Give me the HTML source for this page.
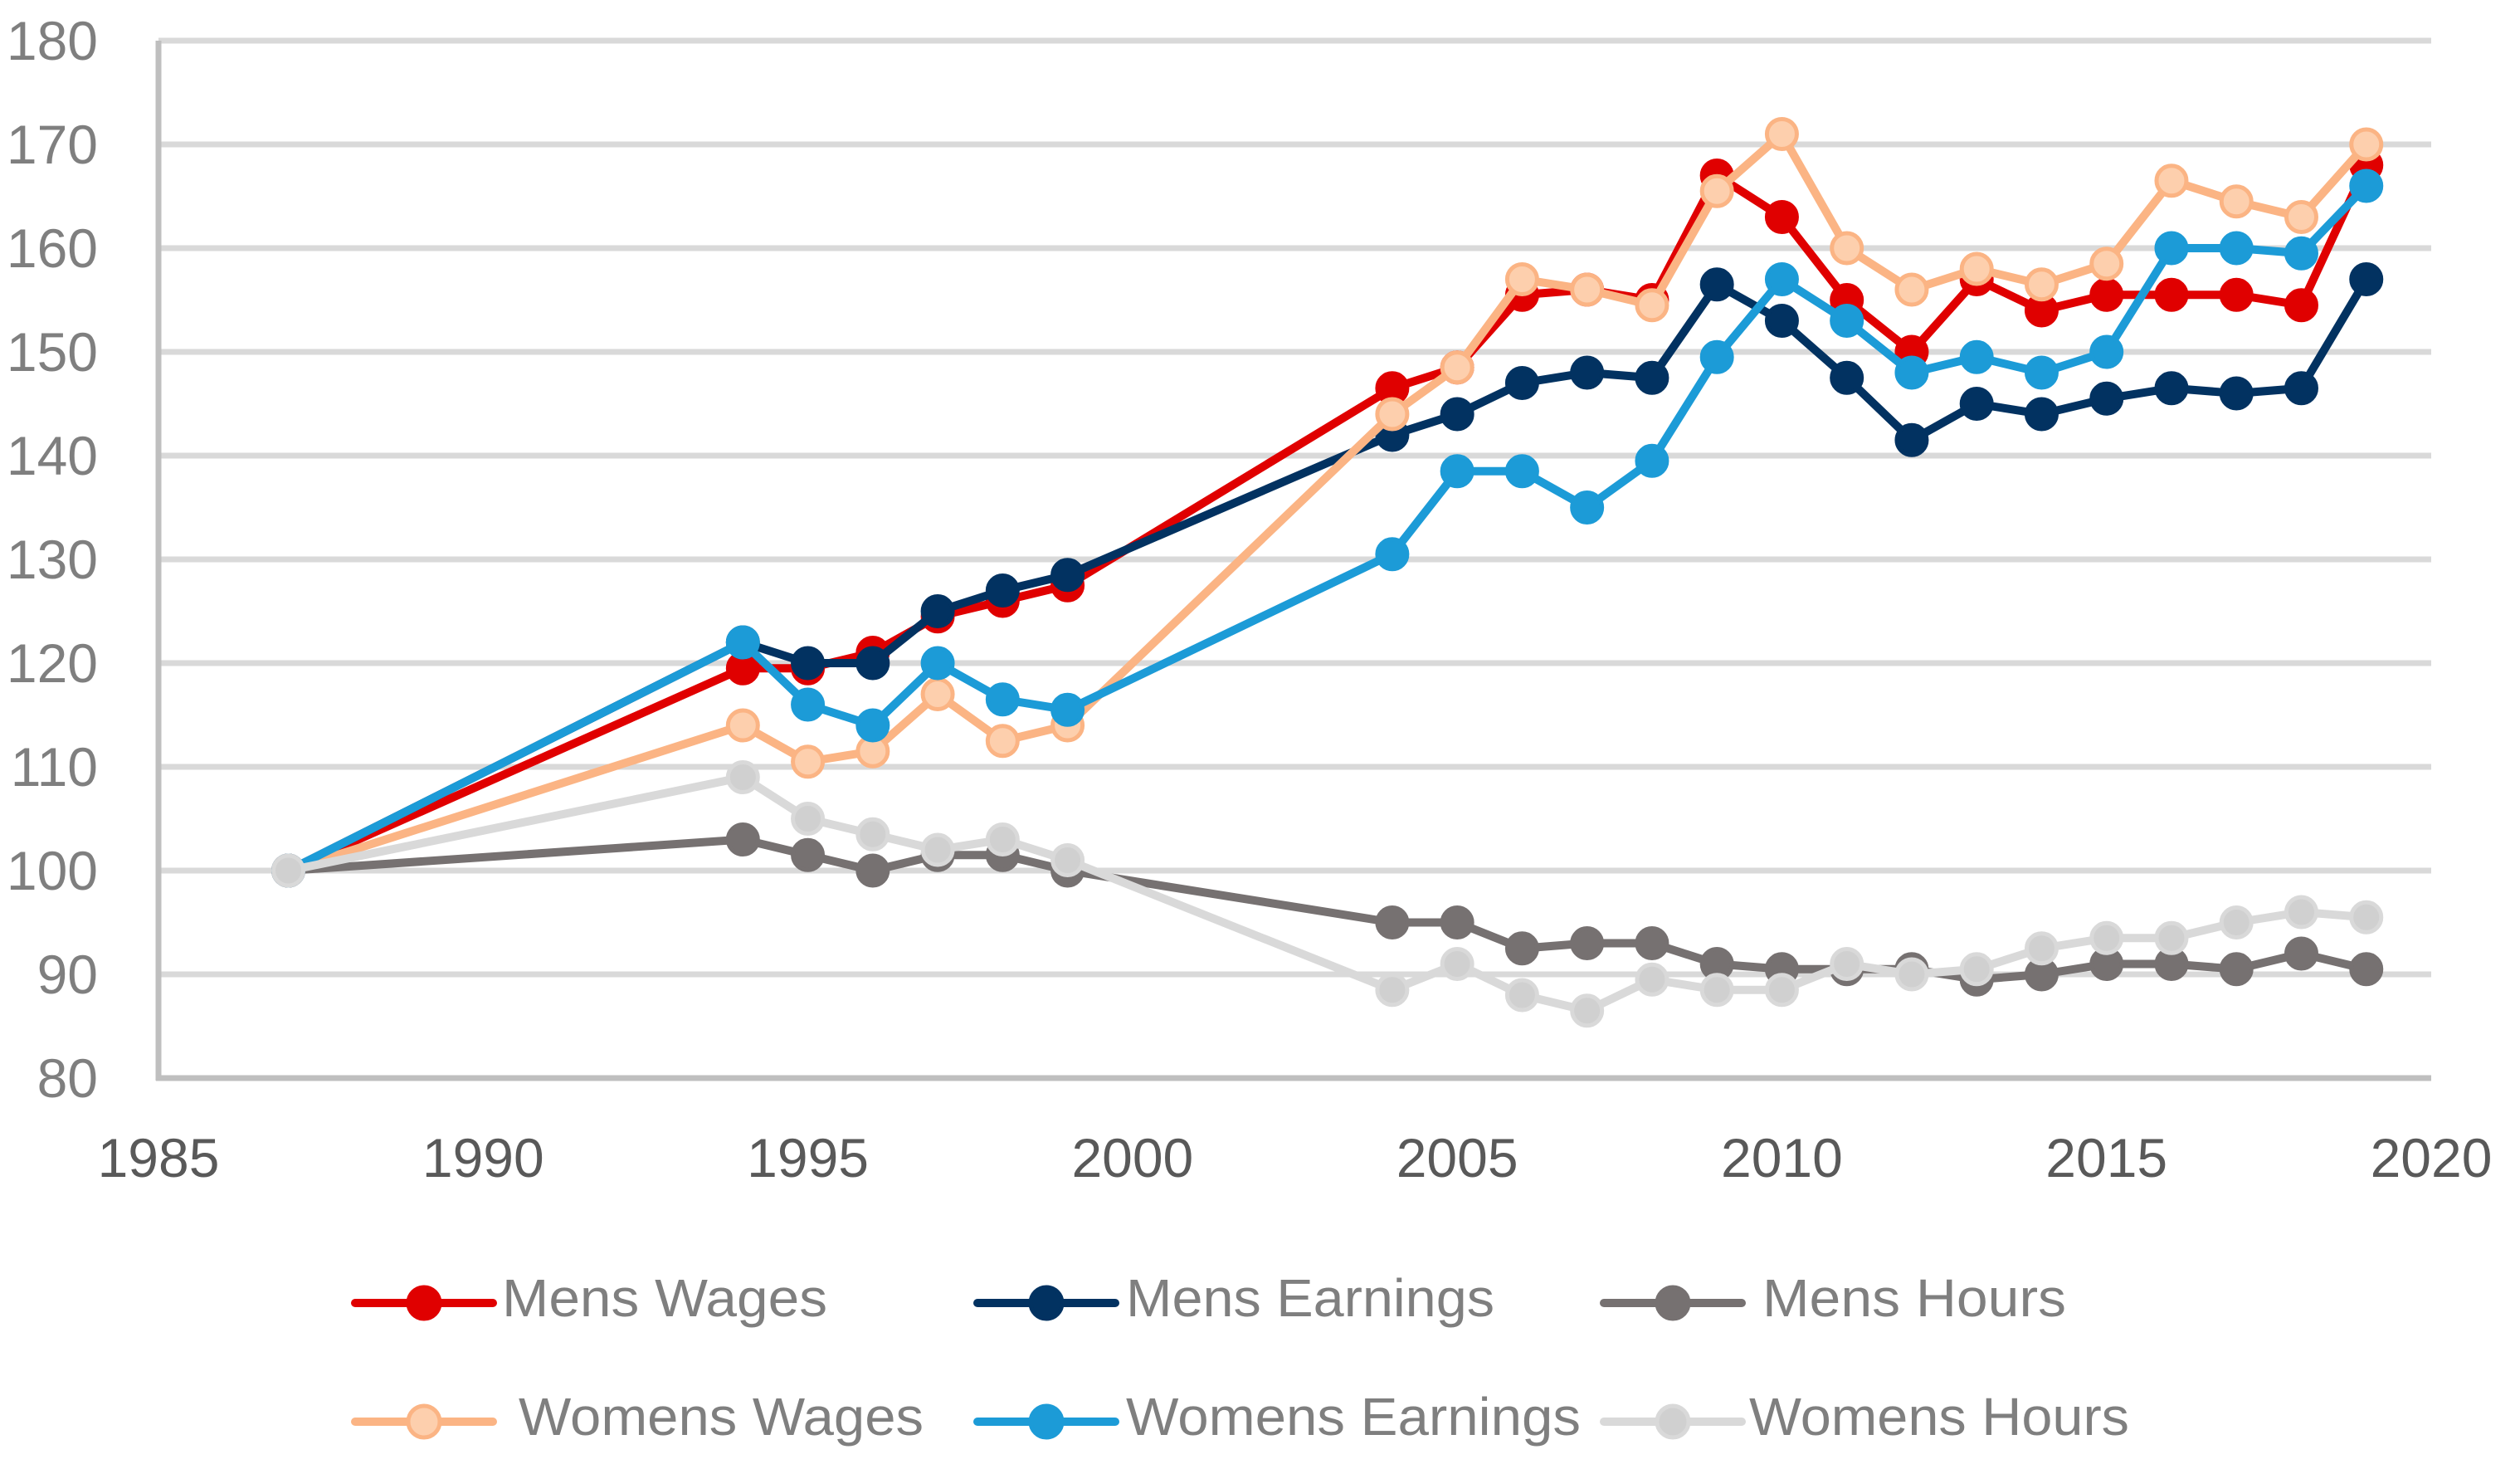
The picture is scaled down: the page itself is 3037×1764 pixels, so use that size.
<!DOCTYPE html>
<html><head><meta charset="utf-8"><style>html,body{margin:0;padding:0;background:#fff}svg{display:block}</style></head>
<body>
<svg id="chart" width="3037" height="1764" viewBox="0 0 3037 1764" xmlns="http://www.w3.org/2000/svg" font-family="'Liberation Sans', sans-serif">
<g id="grid"></g>
<g id="axes"></g>
<g id="series"></g>
<g id="legend"></g>
</svg>
<script>
const years = [1987,1994,1995,1996,1997,1998,1999,2004,2005,2006,2007,2008,2009,2010,2011,2012,2013,2014,2015,2016,2017,2018,2019];
const mensWages = [100,119.5,119.5,121,124.5,126,127.5,146.5,148.5,155.5,156,155,167,163,155,150,157,154,155.5,155.5,155.5,154.5,168];
const mensEarnings = [100,122,120,120,125,127,128.5,142,144,147,148,147.5,156.5,153,147.5,141.5,145,144,145.5,146.5,146,146.5,157];
const mensHours = [100,103,101.5,100,101.5,101.5,100,95,95,92.5,93,93,91,90.5,90.5,90.5,89.5,90,91,91,90.5,92,90.5];
const womensWages = [100,114,110.5,111.5,117,112.5,114,144,148.5,157,156,154.5,165.5,171,160,156,158,156.5,158.5,166.5,164.5,163,170];
const womensEarnings = [100,122,116,114,120,116.5,115.5,130.5,138.5,138.5,135,139.5,149.5,157,153,148,149.5,148,150,160,160,159.5,166];
const womensHours = [100,109,105,103.5,102,103,101,88.5,91,88,86.5,89.5,88.5,88.5,91,90,90.5,92.5,93.5,93.5,95,96,95.5];
const yTicks = [80,90,100,110,120,130,140,150,160,170,180];
const xTicks = [1985,1990,1995,2000,2005,2010,2015,2020];
const seriesNames = ["Mens Wages","Mens Earnings","Mens Hours","Womens Wages","Womens Earnings","Womens Hours"];

const NS="http://www.w3.org/2000/svg";
const X0=191,X1=2930,Y0=1299,Y1=49;
function xs(v){return X0+(v-1985)/(2020-1985)*(X1-X0);}
function ys(v){return Y0-(v-80)/(180-80)*(Y0-Y1);}
function mk(tag,attrs,parent){const e=document.createElementNS(NS,tag);for(const k in attrs)e.setAttribute(k,attrs[k]);parent.appendChild(e);return e;}
const grid=document.getElementById('grid'),axes=document.getElementById('axes'),ser=document.getElementById('series'),leg=document.getElementById('legend');

yTicks.forEach(t=>{
  if(t>80){const l=mk('line',{x1:X0,x2:X1,y1:ys(t),y2:ys(t),stroke:'#d9d9d9','stroke-width':7},grid);
  
  }
  const tx=mk('text',{x:118,y:ys(t)+23,'text-anchor':'end','font-size':66,fill:'#7f7f7f'},axes);
  tx.textContent=t;
  
  
});
xTicks.forEach(t=>{
  const tx=mk('text',{x:xs(t),y:1418,'text-anchor':'middle','font-size':66,fill:'#595959'},axes);
  tx.textContent=t;
  
  
});
const ya=mk('line',{x1:X0,x2:X0,y1:Y1,y2:Y0+3,stroke:'#bfbfbf','stroke-width':7},axes);


const xa=mk('line',{x1:X0-3,x2:X1,y1:Y0,y2:Y0,stroke:'#bfbfbf','stroke-width':7},axes);



const seriesData=[mensWages,mensEarnings,mensHours,womensWages,womensEarnings,womensHours];
const colors=['#e00000','#023261','#767171','#fbb484','#1c9bd7','#d9d9d9'];
const edges=['#e00000','#023261','#767171','#fbb484','#1c9bd7','#d9d9d9'];
const fills=['#e00000','#023261','#767171','#fdcfad','#1c9bd7','#d0d0d0'];
seriesData.forEach((vals,i)=>{
  const g=mk('g',{},ser);
  
  
  const pts=vals.map((v,j)=>xs(years[j])+','+ys(v)).join(' ');
  const pl=mk('polyline',{points:pts,fill:'none',stroke:colors[i],'stroke-width':10,'stroke-linejoin':'round'},g);
  
  
  vals.forEach((v,j)=>{
    const c=mk('circle',{cx:xs(years[j]),cy:ys(v),r:18,fill:fills[i],stroke:edges[i],'stroke-width':5},g);
    
    
  });
});

const legX=[[428,605],[1178,1357],[1933,2124],[428,625],[1178,1357],[1933,2108]];
const legW=[392,444,366,488,548,458];
seriesNames.forEach((n,i)=>{
  const row=i<3?0:1, cy=row?1713:1570;
  const g=mk('g',{},leg);
  
  
  const x=legX[i][0];
  mk('line',{x1:x,x2:x+166,y1:cy,y2:cy,stroke:colors[i],'stroke-width':10,'stroke-linecap':'round'},g);
  mk('circle',{cx:x+83,cy:cy,r:19,fill:fills[i],stroke:edges[i],'stroke-width':5},g);
  const t=mk('text',{x:legX[i][1],y:cy+16,'font-size':64,fill:'#7f7f7f',textLength:legW[i],lengthAdjust:'spacingAndGlyphs'},g);
  t.textContent=n;
});
</script>
</body></html>
